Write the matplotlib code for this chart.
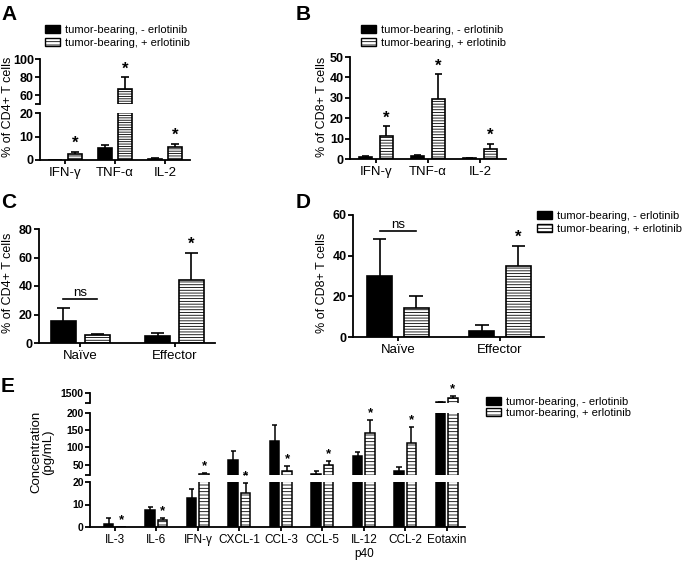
import matplotlib
matplotlib.use('Agg')
import matplotlib.pyplot as plt
from matplotlib.patches import Patch
import numpy as np

plt.rcParams['font.family'] = ['Liberation Sans', 'DejaVu Sans']
plt.rcParams['hatch.linewidth'] = 0.6

W, H = 685, 565

# ---- data ----
legend_labels = ['tumor-bearing, - erlotinib', 'tumor-bearing, + erlotinib']

cyto_cats = ['IFN-γ', 'TNF-α', 'IL-2']
cd4_minus = [0.0, 5.0, 0.6]
cd4_minus_err = [0.0, 1.3, 0.2]
cd4_plus = [2.5, 67.0, 5.5]
cd4_plus_err = [1.0, 13.0, 1.5]
cd4_stars = [True, True, True]

cd8_minus = [1.0, 1.5, 0.3]
cd8_minus_err = [0.5, 0.5, 0.1]
cd8_plus = [11.5, 29.5, 5.0]
cd8_plus_err = [4.5, 12.0, 2.5]
cd8_stars = [True, True, True]

subset_cats = ['Naïve', 'Effector']
cd4_sub_minus = [15.5, 4.7]
cd4_sub_minus_err = [9.0, 2.0]
cd4_sub_plus = [5.4, 44.5]
cd4_sub_plus_err = [0.9, 19.0]
cd4_sub_stars = [False, True]
cd4_ns_y = 31

cd8_sub_minus = [30.0, 3.0]
cd8_sub_minus_err = [18.0, 3.0]
cd8_sub_plus = [14.5, 35.0]
cd8_sub_plus_err = [5.5, 10.0]
cd8_sub_stars = [False, True]
cd8_ns_y = 52

serum_cats = ['IL-3', 'IL-6', 'IFN-γ', 'CXCL-1', 'CCL-3', 'CCL-5', 'IL-12\np40', 'CCL-2', 'Eotaxin']
serum_minus = [1.5, 7.5, 13.0, 65.0, 118.0, 23.0, 74.0, 32.0, 1030.0]
serum_minus_err = [2.3, 1.2, 4.0, 24.0, 48.0, 8.0, 12.0, 10.0, 10.0]
serum_plus = [0.0, 3.3, 22.0, 15.0, 32.0, 50.0, 143.0, 114.0, 1230.0]
serum_plus_err = [0.0, 0.6, 3.0, 4.6, 15.0, 12.0, 37.0, 46.0, 130.0]
serum_stars = [True] * 9

fig = plt.figure(figsize=(6.85, 5.65), dpi=100)


def add_axes(x0, x1, y0, y1):
    # pixel box -> figure fraction
    return fig.add_axes([x0 / W, 1 - y1 / H, (x1 - x0) / W, (y1 - y0) / H])


def style(ax, ylim, yticks, ylabels, xlim, fs, bottom=True):
    ax.set_xlim(*xlim)
    ax.set_ylim(*ylim)
    ax.set_yticks(yticks)
    ax.set_yticklabels(ylabels, fontweight='bold', fontsize=fs)
    for s in ['top', 'right']:
        ax.spines[s].set_visible(False)
    for s in ['left', 'bottom']:
        ax.spines[s].set_linewidth(1.3)
    ax.tick_params(axis='y', length=3.5, width=1.3, pad=1)
    ax.tick_params(axis='x', length=3, width=1.3, pad=2)
    if not bottom:
        ax.spines['bottom'].set_visible(False)
        ax.tick_params(axis='x', bottom=False, labelbottom=False)
    ax.patch.set_alpha(0)


def draw_bars(ax, minus, minus_err, plus, plus_err, off, width, hatch, lw=1.2):
    x = np.arange(len(minus))
    ax.bar(x - off, minus, width, color='black', edgecolor='black', linewidth=lw)
    ax.bar(x + off, plus, width, color='white', edgecolor='black', linewidth=lw, hatch=hatch)
    # upward-only error bars; vlines/hlines clip cleanly on the broken axes
    capw = width * 0.27
    for xs, vals, errs in [(x - off, minus, minus_err), (x + off, plus, plus_err)]:
        for xi, v, e in zip(xs, vals, errs):
            if e <= 0:
                continue
            ax.vlines(xi, v, v + e, color='black', lw=lw)
            ax.hlines(v + e, xi - capw, xi + capw, color='black', lw=lw)


def add_stars(axes, plus, plus_err, stars, off, fs):
    for i, (v, e, s) in enumerate(zip(plus, plus_err, stars)):
        if not s:
            continue
        top = v + e
        target = axes[-1]
        for a in axes:
            lo, hi = a.get_ylim()
            if lo <= top <= hi:
                target = a
        target.annotate('*', xy=(i + off, top), xytext=(0, 0.5), textcoords='offset points',
                        ha='center', va='bottom', fontsize=fs, fontweight='bold',
                        annotation_clip=False)


def add_ns(ax, off, y, fs):
    ax.plot([-off, off], [y, y], color='black', lw=1.2, clip_on=False)
    ax.text(0, y, 'ns', ha='center', va='bottom', fontsize=fs)


handles = [Patch(facecolor='black', edgecolor='black'),
           Patch(facecolor='white', edgecolor='black', hatch='-----')]


def add_legend(x, y, fs, spacing=0.25):
    fig.legend(handles, legend_labels, loc='upper left', bbox_to_anchor=(x / W, 1 - y / H),
               frameon=False, fontsize=fs, handlelength=1.35, handleheight=0.7,
               handletextpad=0.45, labelspacing=spacing, borderpad=0, borderaxespad=0)


# ---- panel A ----
xl3 = (-0.5, 2.5)
a_top = add_axes(40, 190, 59, 104)
a_bot = add_axes(40, 190, 113, 160)
for ax in (a_top, a_bot):
    draw_bars(ax, cd4_minus, cd4_minus_err, cd4_plus, cd4_plus_err, 0.2, 0.29, '-------')
style(a_top, (50, 100), [50, 60, 80, 100], ['', '60', '80', '100'], xl3, 9, bottom=False)
style(a_bot, (0, 20), [0, 10, 20], ['0', '10', '20'], xl3, 9)
a_bot.set_xticks(range(3))
a_bot.set_xticklabels(cyto_cats, fontsize=9.5)
add_stars([a_bot, a_top], cd4_plus, cd4_plus_err, cd4_stars, 0.2, 12)
add_legend(45, 25, 8)
fig.text(8 / W, 1 - 107 / H, '% of CD4+ T cells', rotation=90, ha='center', va='center', fontsize=9)

# ---- panel B ----
b_ax = add_axes(350, 506, 57, 159)
draw_bars(b_ax, cd8_minus, cd8_minus_err, cd8_plus, cd8_plus_err, 0.2, 0.26, '------')
style(b_ax, (0, 50), [0, 10, 20, 30, 40, 50], ['0', '10', '20', '30', '40', '50'], xl3, 9)
b_ax.set_xticks(range(3))
b_ax.set_xticklabels(cyto_cats, fontsize=9.5)
add_stars([b_ax], cd8_plus, cd8_plus_err, cd8_stars, 0.2, 12)
add_legend(361, 25, 8)
fig.text(322 / W, 1 - 107 / H, '% of CD8+ T cells', rotation=90, ha='center', va='center', fontsize=9)

# ---- panel C ----
xl2 = (-0.44, 1.43)
c_ax = add_axes(39, 215, 229, 343)
draw_bars(c_ax, cd4_sub_minus, cd4_sub_minus_err, cd4_sub_plus, cd4_sub_plus_err, 0.18, 0.26, '------')
style(c_ax, (0, 80), [0, 20, 40, 60, 80], ['0', '20', '40', '60', '80'], xl2, 9)
c_ax.set_xticks(range(2))
c_ax.set_xticklabels(subset_cats, fontsize=9.5)
add_stars([c_ax], cd4_sub_plus, cd4_sub_plus_err, cd4_sub_stars, 0.18, 12)
add_ns(c_ax, 0.18, cd4_ns_y, 9.5)
fig.text(8 / W, 1 - 283 / H, '% of CD4+ T cells', rotation=90, ha='center', va='center', fontsize=9)

# ---- panel D ----
d_ax = add_axes(353, 544, 215, 337)
draw_bars(d_ax, cd8_sub_minus, cd8_sub_minus_err, cd8_sub_plus, cd8_sub_plus_err, 0.18, 0.25, '------')
style(d_ax, (0, 60), [0, 20, 40, 60], ['0', '20', '40', '60'], xl2, 9)
d_ax.set_xticks(range(2))
d_ax.set_xticklabels(subset_cats, fontsize=9.5)
add_stars([d_ax], cd8_sub_plus, cd8_sub_plus_err, cd8_sub_stars, 0.18, 12)
add_ns(d_ax, 0.18, cd8_ns_y, 9.5)
add_legend(537, 211, 8)
fig.text(322 / W, 1 - 283 / H, '% of CD8+ T cells', rotation=90, ha='center', va='center', fontsize=9)

# ---- panel E ----
xl9 = (-0.6, 8.44)
e_top = add_axes(90, 465, 393, 403)
e_mid = add_axes(90, 465, 413, 475)
e_bot = add_axes(90, 465, 482, 527)
for ax in (e_top, e_mid, e_bot):
    draw_bars(ax, serum_minus, serum_minus_err, serum_plus, serum_plus_err, 0.15, 0.23, '-----', lw=1.1)
style(e_top, (1000, 1500), [1000, 1500], ['', '1500'], xl9, 7.5, bottom=False)
style(e_mid, (20, 200), [20, 50, 100, 150, 200], ['', '50', '100', '150', '200'], xl9, 7.5, bottom=False)
style(e_bot, (0, 20), [0, 10, 20], ['0', '10', '20'], xl9, 7.5)
e_bot.set_xticks(range(9))
e_bot.set_xticklabels(serum_cats, fontsize=8.5)
add_stars([e_bot, e_mid, e_top], serum_plus, serum_plus_err, serum_stars, 0.15, 9.5)
add_legend(486, 397, 8, spacing=0.08)
fig.text(42 / W, 1 - 452 / H, 'Concentration\n(pg/mL)', rotation=90, ha='center', va='center',
         fontsize=9.5, linespacing=1.0)

# ---- panel letters ----
for lab, x, y in [('A', 1, 5), ('B', 296, 5), ('C', 1, 193), ('D', 296, 193), ('E', 1, 377)]:
    fig.text(x / W, 1 - y / H, lab, fontsize=15, fontweight='bold', ha='left', va='top')

fig.savefig('out.png', dpi=100)
